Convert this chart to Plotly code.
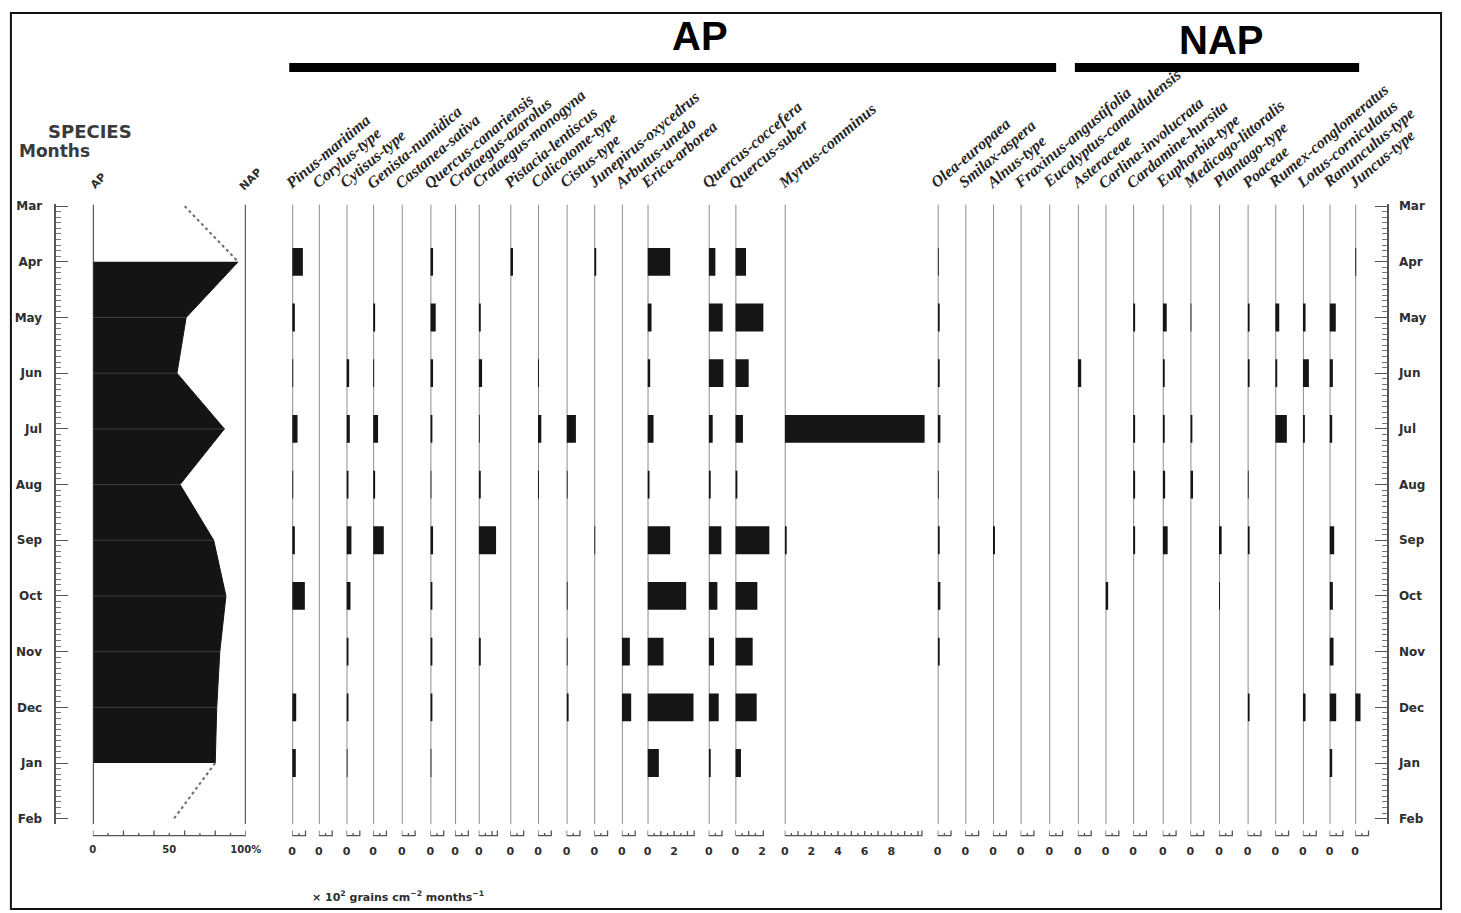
import plotly.graph_objects as go

W, H = 1461, 913

# ---------------- data ----------------
months = ["Mar", "Apr", "May", "Jun", "Jul", "Aug", "Sep", "Oct", "Nov", "Dec", "Jan", "Feb"]

# arboreal pollen share (%), Mar and Feb are the dotted end segments
ap_percent = [60, 95, 61, 55, 86, 57, 79, 87, 83, 81, 80, 53]

# monthly influx, x10^2 grains cm-2 month-1 (Mar ... Feb)
pinus_maritima = [0, 0.8, 0.2, 0.05, 0.4, 0.05, 0.2, 0.95, 0, 0.3, 0.27, 0]
corylus_type = [0, 0, 0, 0, 0, 0, 0, 0, 0, 0, 0, 0]
cytisus_type = [0, 0, 0, 0.2, 0.25, 0.15, 0.37, 0.3, 0.1, 0.15, 0.05, 0]
genista_numidica = [0, 0, 0.08, 0.05, 0.37, 0.1, 0.8, 0, 0, 0, 0, 0]
castanea_sativa = [0, 0, 0, 0, 0, 0, 0, 0, 0, 0, 0, 0]
quercus_canariensis = [0, 0.2, 0.4, 0.2, 0.08, 0.05, 0.2, 0.15, 0.1, 0.1, 0.05, 0]
crataegus_azarolus = [0, 0, 0, 0, 0, 0, 0, 0, 0, 0, 0, 0]
crataegus_monogyna = [0, 0, 0.08, 0.25, 0.05, 0.08, 1.3, 0, 0.1, 0, 0, 0]
pistacia_lentiscus = [0, 0.2, 0, 0, 0, 0, 0, 0, 0, 0, 0, 0]
calicotome_type = [0, 0, 0, 0.05, 0.25, 0.05, 0, 0, 0, 0, 0, 0]
cistus_type = [0, 0, 0, 0, 0.7, 0.05, 0, 0.05, 0.05, 0.1, 0, 0]
juniperus_oxycedrus = [0, 0.08, 0, 0, 0, 0, 0.05, 0, 0, 0, 0, 0]
arbutus_unedo = [0, 0, 0, 0, 0, 0, 0, 0, 0.6, 0.7, 0, 0]
erica_arborea = [0, 1.7, 0.3, 0.2, 0.45, 0.15, 1.7, 2.9, 1.2, 3.45, 0.85, 0]
quercus_coccifera = [0, 0.5, 1.05, 1.1, 0.3, 0.1, 0.95, 0.65, 0.4, 0.75, 0.1, 0]
quercus_suber = [0, 0.8, 2.1, 1.0, 0.57, 0.1, 2.55, 1.65, 1.3, 1.6, 0.42, 0]
myrtus_communus = [0, 0, 0, 0, 10.5, 0, 0.15, 0, 0, 0, 0, 0]
olea_europaea = [0, 0.05, 0.1, 0.08, 0.2, 0.05, 0.08, 0.2, 0.08, 0, 0, 0]
smilax_aspera = [0, 0, 0, 0, 0, 0, 0, 0, 0, 0, 0, 0]
alnus_type = [0, 0, 0, 0, 0, 0, 0.08, 0, 0, 0, 0, 0]
fraxinus_angustifolia = [0, 0, 0, 0, 0, 0, 0, 0, 0, 0, 0, 0]
eucalyptus_camaldulensis = [0, 0, 0, 0, 0, 0, 0, 0, 0, 0, 0, 0]
asteraceae = [0, 0, 0, 0.25, 0, 0, 0, 0, 0, 0, 0, 0]
carlina_involucrata = [0, 0, 0, 0, 0, 0, 0, 0.2, 0, 0, 0, 0]
cardamine_hursita = [0, 0, 0.08, 0, 0.15, 0.1, 0.1, 0, 0, 0, 0, 0]
euphorbia_type = [0, 0, 0.3, 0.15, 0.15, 0.18, 0.37, 0, 0, 0, 0, 0]
medicago_littoralis = [0, 0, 0.05, 0, 0.08, 0.2, 0, 0, 0, 0, 0, 0]
plantago_type = [0, 0, 0, 0, 0, 0, 0.2, 0.05, 0, 0, 0, 0]
poaceae = [0, 0, 0.1, 0.08, 0, 0.05, 0.08, 0, 0, 0.1, 0, 0]
rumex_conglomeratus = [0, 0, 0.3, 0.08, 0.87, 0, 0, 0, 0, 0, 0, 0]
lotus_corniculatus = [0, 0, 0.2, 0.45, 0.15, 0, 0, 0, 0, 0.2, 0, 0]
ranunculus_type = [0, 0, 0.47, 0.25, 0.2, 0, 0.35, 0.25, 0.3, 0.5, 0.2, 0]
juncus_type = [0, 0.05, 0, 0, 0, 0, 0, 0, 0, 0.4, 0, 0]

species_names = [
    "Pinus-maritima", "Corylus-type", "Cytisus-type", "Genista-numidica",
    "Castanea-sativa", "Quercus-canariensis", "Crataegus-azarolus",
    "Crataegus-monogyna", "Pistacia-lentiscus", "Calicotome-type", "Cistus-type",
    "Junepirus-oxycedrus", "Arbutus-unedo", "Erica-arborea", "Quercus-coccefera",
    "Quercus-suber", "Myrtus-comminus", "Olea-europaea", "Smilax-aspera",
    "Alnus-type", "Fraxinus-angustifolia", "Eucalyptus-camaldulensis",
    "Asteraceae", "Carlina-involucrata", "Cardamine-hursita", "Euphorbia-type",
    "Medicago-littoralis", "Plantago-type", "Poaceae", "Rumex-conglomeratus",
    "Lotus-corniculatus", "Ranunculus-type", "Juncus-type",
]
species_values = [
    pinus_maritima, corylus_type, cytisus_type, genista_numidica,
    castanea_sativa, quercus_canariensis, crataegus_azarolus,
    crataegus_monogyna, pistacia_lentiscus, calicotome_type, cistus_type,
    juniperus_oxycedrus, arbutus_unedo, erica_arborea, quercus_coccifera,
    quercus_suber, myrtus_communus, olea_europaea, smilax_aspera,
    alnus_type, fraxinus_angustifolia, eucalyptus_camaldulensis,
    asteraceae, carlina_involucrata, cardamine_hursita, euphorbia_type,
    medicago_littoralis, plantago_type, poaceae, rumex_conglomeratus,
    lotus_corniculatus, ranunculus_type, juncus_type,
]
# labelled scale values under each column
scale_labels = {13: [0, 2], 15: [0, 2], 16: [0, 2, 4, 6, 8]}

# ---------------- layout geometry (pixels) ----------------
col_x = [292, 319, 347, 374, 403, 432, 457, 481, 513, 541, 570, 598, 626, 652,
         714, 741, 791, 946, 974, 1002, 1030, 1059, 1088, 1116, 1144, 1174,
         1202, 1231, 1260, 1288, 1316, 1343, 1369]
PX_PER_UNIT = 13.5
bracket_units = [1.0] * len(col_x)
bracket_units[7] = 1.4
bracket_units[13] = 3.5
bracket_units[15] = 2.1
bracket_units[16] = 10.3

Y_TOP, Y_BOT = 201.0, 825.6
Y_RANGE = [11.1, -0.03]
AP_X0, AP_X1 = 90, 245


def px(x):
    return x / W


def py(y):
    return 1 - y / H


BAR_COLOR = "#151515"
LINE_GRAY = "#8c8c8c"
TXT = "#2e2e2e"
SANS = "DejaVu Sans"

fig = go.Figure()
shapes = []
annotations = []


def label(text, x, y, size, family=SANS, color=TXT, angle=0, xanchor="center",
          yanchor="middle", **font_extra):
    annotations.append(dict(
        text=text, x=px(x), y=py(y), xref="paper", yref="paper",
        xanchor=xanchor, yanchor=yanchor, showarrow=False, textangle=angle,
        font=dict(family=family, size=size, color=color, **font_extra)))


# ---------------- AP / NAP summary panel ----------------
fig.add_trace(go.Scatter(
    x=ap_percent[1:11], y=list(range(1, 11)), mode="lines", fill="tozerox",
    fillcolor="#141414", line=dict(color="#141414", width=1),
    xaxis="x", yaxis="y", hoverinfo="skip", showlegend=False))
for seg in ([0, 1], [10, 11]):
    fig.add_trace(go.Scatter(
        x=[ap_percent[i] for i in seg], y=seg, mode="lines",
        line=dict(color="#6e6e6e", width=2, dash="dot"),
        xaxis="x", yaxis="y", hoverinfo="skip", showlegend=False))
# faint sample lines across the filled curve
for m in range(2, 10):
    shapes.append(dict(type="line", xref="x", yref="y", x0=0, x1=ap_percent[m],
                       y0=m, y1=m, line=dict(color="#3f3f3f", width=1),
                       layer="above"))
for xv in (0, 100):
    shapes.append(dict(type="line", xref="x", yref="y", x0=xv, x1=xv,
                       y0=Y_RANGE[1], y1=Y_RANGE[0],
                       line=dict(color="#3a3a3a", width=2), layer="above"))
# percentage scale bracket
ap_path = f"M0,{py(832)} L0,{py(837)} L100,{py(837)} L100,{py(832)}"
for v in range(10, 100, 10):
    top = 832 if v % 20 == 0 else 834.5
    ap_path += f" M{v},{py(837)} L{v},{py(top)}"
shapes.append(dict(type="path", xref="x", yref="paper", path=ap_path,
                   line=dict(color="#555", width=1.3)))

layout_axes = {
    "xaxis": dict(domain=[px(AP_X0), px(AP_X1)], range=[0, 100], anchor="y",
                  showgrid=False, zeroline=False, showline=False, ticks="",
                  tickmode="array", tickvals=[0, 50, 100],
                  ticktext=["0", "50", "100%"], ticklabelstandoff=18,
                  tickfont=dict(family=SANS, size=10, color=TXT, weight="bold")),
}

# ---------------- species columns ----------------
for i, (name, vals) in enumerate(zip(species_names, species_values)):
    ax = f"x{i + 2}"
    x0 = col_x[i]
    nxt = col_x[i + 1] if i + 1 < len(col_x) else 1395
    span = nxt - x0 - 3
    umax = span / PX_PER_UNIT
    fig.add_trace(go.Bar(
        x=vals, y=list(range(len(months))), orientation="h", width=0.5,
        base=0, marker=dict(color=BAR_COLOR, line=dict(width=0)),
        xaxis=ax, yaxis="y", hoverinfo="skip", showlegend=False))
    labels = scale_labels.get(i, [0])
    layout_axes[f"xaxis{i + 2}"] = dict(
        domain=[px(x0), px(x0 + span)], range=[0, umax], anchor="y",
        showgrid=False, zeroline=False, showline=False, ticks="",
        tickmode="array", tickvals=labels, ticktext=[str(v) for v in labels],
        ticklabelstandoff=19,
        tickfont=dict(family=SANS, size=11, color=TXT, weight="bold"))
    # axis line of the column
    shapes.append(dict(type="line", xref=ax, yref="y", x0=0, x1=0,
                       y0=Y_RANGE[1], y1=Y_RANGE[0],
                       line=dict(color=LINE_GRAY, width=2), layer="below"))
    # little scale bracket beneath the column
    bu = bracket_units[i]
    p = f"M0,{py(832)} L0,{py(837)} L{bu},{py(837)} L{bu},{py(832)}"
    step = 0.5
    v = step
    while v < bu - 0.2:
        top = 832.5 if abs(v - round(v)) < 1e-6 else 834.5
        p += f" M{v},{py(837)} L{v},{py(top)}"
        v += step
    shapes.append(dict(type="path", xref=ax, yref="paper", path=p,
                       line=dict(color="#555", width=1.3)))
    # rotated taxon name
    label(name, x0 - 13, 191, 16, family="Liberation Serif", color="#262626",
          angle=-40, xanchor="left", yanchor="bottom",
          style="italic", weight="bold")

# month rulers on both sides
ruler_common = dict(
    range=Y_RANGE, domain=[py(Y_BOT), py(Y_TOP)], showgrid=False,
    zeroline=False, showline=True, linecolor="#555", linewidth=1.5,
    tickmode="array", tickvals=list(range(len(months))), ticktext=months,
    ticks="inside", ticklen=12, tickwidth=1.3, tickcolor="#555",
    tickfont=dict(family=SANS, size=12, color=TXT, weight="bold"),
    minor=dict(tickmode="linear", tick0=0, dtick=0.1, ticks="inside",
               ticklen=5, tickwidth=1, tickcolor="#777"),
)
layout_axes["yaxis"] = dict(ruler_common, anchor="free", position=px(52),
                            side="left", ticklabelstandoff=10)
layout_axes["yaxis2"] = dict(ruler_common, anchor="free", position=px(1402),
                             side="right", overlaying="y", ticklabelstandoff=8)
fig.add_trace(go.Scatter(x=[None], y=[None], xaxis="x", yaxis="y2",
                         showlegend=False, hoverinfo="skip"))

# ---------------- headers ----------------
shapes.append(dict(type="line", xref="paper", yref="paper",
                   x0=px(289), x1=px(1066), y0=py(63), y1=py(63),
                   line=dict(color="black", width=9)))
shapes.append(dict(type="line", xref="paper", yref="paper",
                   x0=px(1085), x1=px(1373), y0=py(63), y1=py(63),
                   line=dict(color="black", width=9)))
label("AP", 705, 31, 40, family="Liberation Sans", color="black", weight="bold")
label("NAP", 1233, 35, 40, family="Liberation Sans", color="black", weight="bold")
label("SPECIES", 87, 127, 18, color="#3a3a3a", weight="bold")
label("Months", 51, 147, 17, color="#3a3a3a", weight="bold")
label("AP", 96, 177, 11, angle=-45, weight="bold")
label("NAP", 250, 176, 11, angle=-45, weight="bold")
label("× 10<sup>2</sup> grains cm<sup>−2</sup> months<sup>−1</sup>", 310, 898,
      11, xanchor="left", weight="bold")

# outer frame
shapes.append(dict(type="rect", xref="paper", yref="paper",
                   x0=px(7), x1=px(1456), y0=py(911), y1=py(8),
                   line=dict(color="#111", width=2)))

fig.update_layout(
    width=W, height=H, margin=dict(l=0, r=0, t=0, b=0),
    paper_bgcolor="white", plot_bgcolor="rgba(0,0,0,0)",
    barmode="overlay", showlegend=False,
    shapes=shapes, annotations=annotations, **layout_axes)

fig.write_html("out.html")
